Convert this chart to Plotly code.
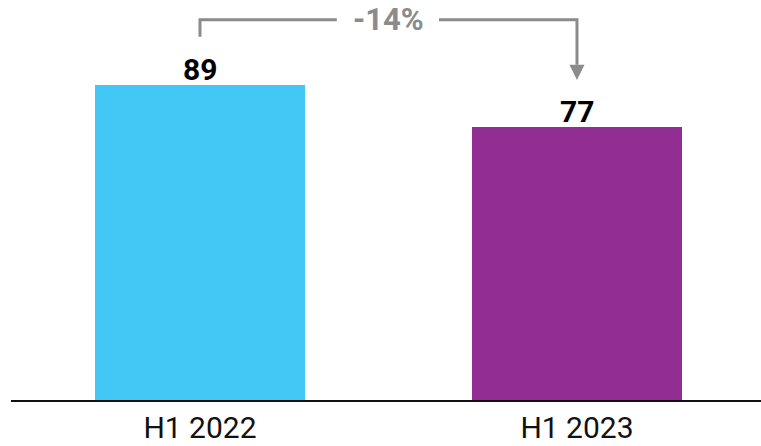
import plotly.graph_objects as go

categories = ["H1 2022", "H1 2023"]
values = [89, 77]
bar_colors = ["#43C8F5", "#922D94"]
change_label = "-14%"

gray = "#8B8B8D"
font_family = "Roboto, 'DejaVu Sans', sans-serif"

fig = go.Figure()
fig.add_trace(go.Bar(
    x=[0, 1], y=values,
    marker=dict(color=bar_colors, line=dict(width=0)),
    width=0.557,
    hoverinfo="skip",
))

# value labels
for i, v in enumerate(values):
    fig.add_annotation(x=i, y=v, text=f"<b>{v}</b>", showarrow=False,
                       xref="x", yref="y", yanchor="bottom", yshift=-4,
                       font=dict(family=font_family, size=30, color="#000000"))

# bracket with gap for label
top_y = 107.4
start_y = values[0] + 13.6
head_base = values[1] + 17.7
tip_y = values[1] + 13.4
fig.add_shape(type="path",
              path=f"M 0,{start_y} L 0,{top_y} L 0.363,{top_y}",
              xref="x", yref="y", line=dict(color=gray, width=3))
fig.add_shape(type="path",
              path=f"M 0.634,{top_y} L 1,{top_y} L 1,{head_base}",
              xref="x", yref="y", line=dict(color=gray, width=3))
hw = 0.0199
fig.add_shape(type="path",
              path=f"M {1-hw},{head_base} L {1+hw},{head_base} L 1,{tip_y} Z",
              xref="x", yref="y", fillcolor=gray, line=dict(color=gray, width=0))
fig.add_annotation(x=0.5, y=top_y, text=f"<b>{change_label}</b>", showarrow=False,
                   xref="x", yref="y", yanchor="middle",
                   font=dict(family=font_family, size=31, color=gray))

fig.update_layout(
    width=761, height=446,
    margin=dict(l=11, r=0, t=0, b=46),
    paper_bgcolor="white", plot_bgcolor="white",
    showlegend=False,
    bargap=0,
)
fig.update_xaxes(range=[-0.5013, 1.4881], tickmode="array", tickvals=[0, 1],
                 ticktext=categories, showgrid=False, zeroline=False,
                 showline=True, linecolor="#111111", linewidth=2,
                 ticks="", tickfont=dict(family=font_family, size=30, color="#111111"))
fig.update_yaxes(range=[0, 113.0], visible=False, showgrid=False, zeroline=False)

fig.write_html("out.html", config={"displayModeBar": False},
               post_script="document.body.style.margin='0';document.body.style.overflow='hidden';")
